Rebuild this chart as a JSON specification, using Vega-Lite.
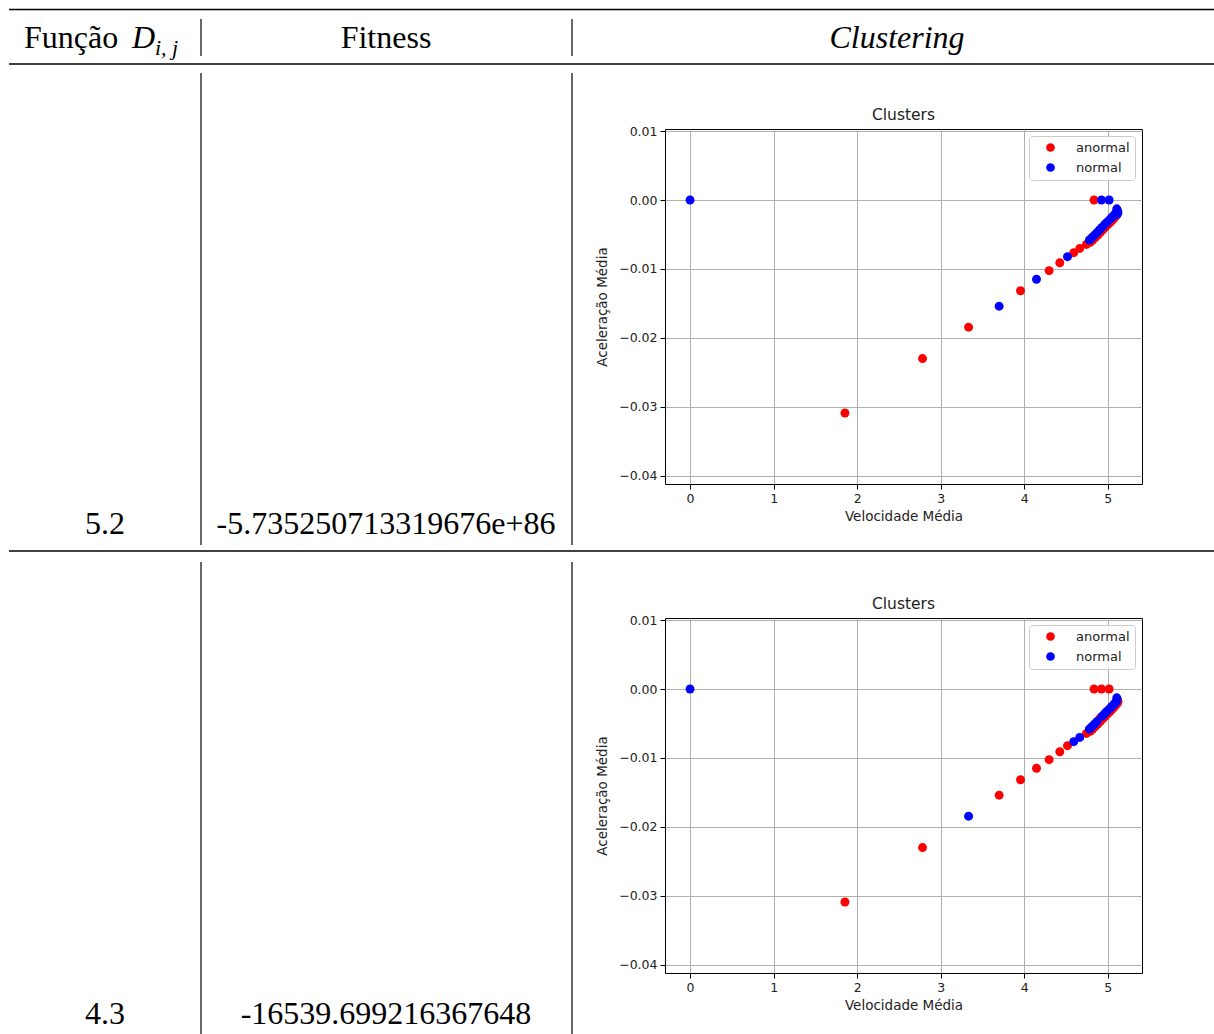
{
  "$schema": "https://vega.github.io/schema/vega-lite/v6.json",
  "padding": 0,
  "background": "white",
  "config": {
    "view": {"stroke": null},
    "axis": {
      "labelFont": "DejaVu Sans", "labelFontSize": 12.5, "labelColor": "#222",
      "titleFont": "DejaVu Sans", "titleFontSize": 13.5, "titleFontWeight": "normal", "titleColor": "#222",
      "gridColor": "#b0b0b0", "gridWidth": 1, "gridOpacity": 1,
      "tickColor": "#000", "tickSize": 5, "tickWidth": 1,
      "domain": false, "labelPadding": 3, "labelFlush": false, "labelOverlap": false, "zindex": 1
    },
    "axisY": {"titlePadding": 9},
    "axisX": {"titlePadding": 5},
    "text": {"font": "Liberation Serif", "fontSize": 32, "color": "#000"}
  },
  "datasets": {
    "row1": [{"funcao": "5.2", "fitness": "-5.735250713319676e+86"}],
    "row2": [{"funcao": "4.3", "fitness": "-16539.699216367648"}],
    "points": [
      {"x": 0, "y": 0, "c1": "normal", "c2": "normal"},
      {"x": 1.854, "y": -0.0309, "c1": "anormal", "c2": "anormal"},
      {"x": 2.783, "y": -0.0230, "c1": "anormal", "c2": "anormal"},
      {"x": 3.334, "y": -0.01845, "c1": "anormal", "c2": "normal"},
      {"x": 3.700, "y": -0.01540, "c1": "normal", "c2": "anormal"},
      {"x": 3.956, "y": -0.01316, "c1": "anormal", "c2": "anormal"},
      {"x": 4.147, "y": -0.01150, "c1": "normal", "c2": "anormal"},
      {"x": 4.298, "y": -0.01025, "c1": "anormal", "c2": "anormal"},
      {"x": 4.426, "y": -0.00910, "c1": "anormal", "c2": "anormal"},
      {"x": 4.518, "y": -0.00822, "c1": "normal", "c2": "anormal"},
      {"x": 4.593, "y": -0.00764, "c1": "anormal", "c2": "normal"},
      {"x": 4.665, "y": -0.00703, "c1": "anormal", "c2": "normal"},
      {"x": 4.745, "y": -0.00645, "c1": "anormal", "c2": "anormal"},
      {"x": 4.836, "y": 0, "c1": "anormal", "c2": "anormal"},
      {"x": 4.925, "y": 0, "c1": "normal", "c2": "anormal"},
      {"x": 5.016, "y": 0, "c1": "normal", "c2": "anormal"},
      {"x": 4.79, "y": -0.00615, "c1": "anormal", "c2": "anormal"},
      {"x": 4.82, "y": -0.0058, "c1": "anormal", "c2": "anormal"},
      {"x": 4.85, "y": -0.00545, "c1": "anormal", "c2": "anormal"},
      {"x": 4.88, "y": -0.0051, "c1": "anormal", "c2": "anormal"},
      {"x": 4.91, "y": -0.00472, "c1": "anormal", "c2": "anormal"},
      {"x": 4.94, "y": -0.00434, "c1": "anormal", "c2": "anormal"},
      {"x": 4.97, "y": -0.00396, "c1": "anormal", "c2": "anormal"},
      {"x": 5.0, "y": -0.0036, "c1": "anormal", "c2": "anormal"},
      {"x": 5.03, "y": -0.00324, "c1": "anormal", "c2": "anormal"},
      {"x": 5.055, "y": -0.00292, "c1": "anormal", "c2": "anormal"},
      {"x": 5.08, "y": -0.0026, "c1": "anormal", "c2": "anormal"},
      {"x": 5.10, "y": -0.0023, "c1": "anormal", "c2": "anormal"},
      {"x": 5.115, "y": -0.00205, "c1": "normal", "c2": "anormal"},
      {"x": 5.123, "y": -0.0018, "c1": "normal", "c2": "anormal"},
      {"x": 4.78, "y": -0.0058, "c1": "normal", "c2": "normal"},
      {"x": 4.81, "y": -0.00545, "c1": "normal", "c2": "normal"},
      {"x": 4.84, "y": -0.0051, "c1": "normal", "c2": "normal"},
      {"x": 4.87, "y": -0.00473, "c1": "normal", "c2": "normal"},
      {"x": 4.90, "y": -0.00435, "c1": "normal", "c2": "anormal"},
      {"x": 4.93, "y": -0.00397, "c1": "normal", "c2": "normal"},
      {"x": 4.96, "y": -0.0036, "c1": "normal", "c2": "normal"},
      {"x": 4.99, "y": -0.00323, "c1": "normal", "c2": "normal"},
      {"x": 5.02, "y": -0.00288, "c1": "normal", "c2": "normal"},
      {"x": 5.045, "y": -0.00258, "c1": "normal", "c2": "normal"},
      {"x": 5.07, "y": -0.00228, "c1": "normal", "c2": "normal"},
      {"x": 5.09, "y": -0.002, "c1": "normal", "c2": "normal"},
      {"x": 5.105, "y": -0.00175, "c1": "normal", "c2": "normal"},
      {"x": 5.113, "y": -0.0015, "c1": "normal", "c2": "normal"},
      {"x": 5.108, "y": -0.00128, "c1": "normal", "c2": "normal"}
    ]
  },
  "columns": 2,
  "spacing": {"row": 5, "column": 93},
  "bounds": "flush",
  "center": true,
  "resolve": {"scale": {"color": "independent"}, "legend": {"color": "independent"}},
  "concat": [
    {
      "width": 572, "height": 613,
      "data": {"name": "row1"},
      "layer": [
        {"mark": {"type": "rule", "color": "#000", "strokeWidth": 1.6},
         "encoding": {"x": {"datum": 9, "type": "quantitative", "scale": {"domain": [0, 572], "nice": false, "zero": false}, "axis": null}, "x2": {"datum": 1214},
                      "y": {"datum": 9.5, "type": "quantitative", "scale": {"domain": [0, 613], "nice": false, "zero": false, "reverse": true}, "axis": null}}},
        {"mark": {"type": "rule", "color": "#000", "strokeWidth": 1.5},
         "encoding": {"x": {"datum": 9, "type": "quantitative", "scale": {"domain": [0, 572], "nice": false, "zero": false}, "axis": null}, "x2": {"datum": 1214},
                      "y": {"datum": 64, "type": "quantitative", "scale": {"domain": [0, 613], "nice": false, "zero": false, "reverse": true}, "axis": null}}},
        {"mark": {"type": "rule", "color": "#000", "strokeWidth": 1.5},
         "encoding": {"x": {"datum": 9, "type": "quantitative", "scale": {"domain": [0, 572], "nice": false, "zero": false}, "axis": null}, "x2": {"datum": 1214},
                      "y": {"datum": 551, "type": "quantitative", "scale": {"domain": [0, 613], "nice": false, "zero": false, "reverse": true}, "axis": null}}},
        {"mark": {"type": "rule", "color": "#000", "strokeWidth": 1.2},
         "encoding": {"x": {"datum": 201, "type": "quantitative", "scale": {"domain": [0, 572], "nice": false, "zero": false}, "axis": null},
                      "y": {"datum": 19, "type": "quantitative", "scale": {"domain": [0, 613], "nice": false, "zero": false, "reverse": true}, "axis": null}, "y2": {"datum": 56}}},
        {"mark": {"type": "rule", "color": "#000", "strokeWidth": 1.2},
         "encoding": {"x": {"datum": 572, "type": "quantitative", "scale": {"domain": [0, 572], "nice": false, "zero": false}, "axis": null},
                      "y": {"datum": 19, "type": "quantitative", "scale": {"domain": [0, 613], "nice": false, "zero": false, "reverse": true}, "axis": null}, "y2": {"datum": 56}}},
        {"mark": {"type": "rule", "color": "#000", "strokeWidth": 1.2},
         "encoding": {"x": {"datum": 201, "type": "quantitative", "scale": {"domain": [0, 572], "nice": false, "zero": false}, "axis": null},
                      "y": {"datum": 73, "type": "quantitative", "scale": {"domain": [0, 613], "nice": false, "zero": false, "reverse": true}, "axis": null}, "y2": {"datum": 545}}},
        {"mark": {"type": "rule", "color": "#000", "strokeWidth": 1.2},
         "encoding": {"x": {"datum": 572, "type": "quantitative", "scale": {"domain": [0, 572], "nice": false, "zero": false}, "axis": null},
                      "y": {"datum": 73, "type": "quantitative", "scale": {"domain": [0, 613], "nice": false, "zero": false, "reverse": true}, "axis": null}, "y2": {"datum": 545}}},
        {"mark": {"type": "text", "text": "Função", "align": "left", "baseline": "alphabetic"},
         "encoding": {"x": {"datum": 24, "type": "quantitative", "scale": {"domain": [0, 572], "nice": false, "zero": false}, "axis": null},
                      "y": {"datum": 47.5, "type": "quantitative", "scale": {"domain": [0, 613], "nice": false, "zero": false, "reverse": true}, "axis": null}}},
        {"mark": {"type": "text", "text": "D", "align": "left", "baseline": "alphabetic", "fontStyle": "italic"},
         "encoding": {"x": {"datum": 132, "type": "quantitative", "scale": {"domain": [0, 572], "nice": false, "zero": false}, "axis": null},
                      "y": {"datum": 47.5, "type": "quantitative", "scale": {"domain": [0, 613], "nice": false, "zero": false, "reverse": true}, "axis": null}}},
        {"mark": {"type": "text", "text": "i, j", "align": "left", "baseline": "alphabetic", "fontStyle": "italic", "fontSize": 22},
         "encoding": {"x": {"datum": 155, "type": "quantitative", "scale": {"domain": [0, 572], "nice": false, "zero": false}, "axis": null},
                      "y": {"datum": 54.5, "type": "quantitative", "scale": {"domain": [0, 613], "nice": false, "zero": false, "reverse": true}, "axis": null}}},
        {"mark": {"type": "text", "text": "Fitness", "align": "center", "baseline": "alphabetic"},
         "encoding": {"x": {"datum": 386, "type": "quantitative", "scale": {"domain": [0, 572], "nice": false, "zero": false}, "axis": null},
                      "y": {"datum": 47.5, "type": "quantitative", "scale": {"domain": [0, 613], "nice": false, "zero": false, "reverse": true}, "axis": null}}},
        {"mark": {"type": "text", "text": "Clustering", "align": "center", "baseline": "alphabetic", "fontStyle": "italic"},
         "encoding": {"x": {"datum": 897, "type": "quantitative", "scale": {"domain": [0, 572], "nice": false, "zero": false}, "axis": null},
                      "y": {"datum": 47.5, "type": "quantitative", "scale": {"domain": [0, 613], "nice": false, "zero": false, "reverse": true}, "axis": null}}},
        {"mark": {"type": "text", "align": "center", "baseline": "alphabetic"},
         "encoding": {"text": {"field": "funcao"},
                      "x": {"datum": 105, "type": "quantitative", "scale": {"domain": [0, 572], "nice": false, "zero": false}, "axis": null},
                      "y": {"datum": 533.5, "type": "quantitative", "scale": {"domain": [0, 613], "nice": false, "zero": false, "reverse": true}, "axis": null}}},
        {"mark": {"type": "text", "align": "center", "baseline": "alphabetic"},
         "encoding": {"text": {"field": "fitness"},
                      "x": {"datum": 386, "type": "quantitative", "scale": {"domain": [0, 572], "nice": false, "zero": false}, "axis": null},
                      "y": {"datum": 533.5, "type": "quantitative", "scale": {"domain": [0, 613], "nice": false, "zero": false, "reverse": true}, "axis": null}}}
      ]
    },
    {
      "width": 477, "height": 355,
      "view": {"stroke": "#000", "strokeWidth": 1},
      "title": {"text": "Clusters", "font": "DejaVu Sans", "fontSize": 15.5, "fontWeight": "normal", "color": "#222", "offset": 2},
      "data": {"name": "points"},
      "mark": {"type": "point", "filled": true, "size": 80, "opacity": 1, "strokeWidth": 0},
      "encoding": {
        "x": {"field": "x", "type": "quantitative", "scale": {"domain": [-0.3, 5.41], "nice": false, "zero": false},
              "axis": {"title": "Velocidade Média", "values": [0, 1, 2, 3, 4, 5], "format": "d", "grid": true}},
        "y": {"field": "y", "type": "quantitative", "scale": {"domain": [-0.0412, 0.0103], "nice": false, "zero": false},
              "axis": {"title": "Aceleração Média", "values": [-0.04, -0.03, -0.02, -0.01, 0, 0.01], "format": ".2f", "grid": true}},
        "color": {"field": "c1", "type": "nominal", "scale": {"domain": ["anormal", "normal"], "range": ["#ff0000", "#0000ff"]},
                  "legend": {"title": null, "orient": "top-right", "offset": 7, "padding": 5, "strokeColor": "#cccccc", "fillColor": "rgba(255,255,255,0.85)", "cornerRadius": 3, "labelFont": "DejaVu Sans", "labelFontSize": 13, "labelColor": "#222", "symbolType": "circle", "symbolSize": 75, "symbolStrokeWidth": 0, "rowPadding": 6, "labelOffset": 19, "symbolOffset": 10, "zindex": 2}},
        "order": {"field": "c1", "sort": "ascending"}
      }
    },
    {
      "width": 572, "height": 355,
      "data": {"name": "row2"},
      "layer": [
        {"mark": {"type": "rule", "color": "#000", "strokeWidth": 1.2},
         "encoding": {"x": {"datum": 201, "type": "quantitative", "scale": {"domain": [0, 572], "nice": false, "zero": false}, "axis": null},
                      "y": {"datum": 562, "type": "quantitative", "scale": {"domain": [618, 973], "nice": false, "zero": false, "reverse": true}, "axis": null}, "y2": {"datum": 1034}}},
        {"mark": {"type": "rule", "color": "#000", "strokeWidth": 1.2},
         "encoding": {"x": {"datum": 572, "type": "quantitative", "scale": {"domain": [0, 572], "nice": false, "zero": false}, "axis": null},
                      "y": {"datum": 562, "type": "quantitative", "scale": {"domain": [618, 973], "nice": false, "zero": false, "reverse": true}, "axis": null}, "y2": {"datum": 1034}}},
        {"mark": {"type": "text", "align": "center", "baseline": "alphabetic"},
         "encoding": {"text": {"field": "funcao"},
                      "x": {"datum": 105, "type": "quantitative", "scale": {"domain": [0, 572], "nice": false, "zero": false}, "axis": null},
                      "y": {"datum": 1023.5, "type": "quantitative", "scale": {"domain": [618, 973], "nice": false, "zero": false, "reverse": true}, "axis": null}}},
        {"mark": {"type": "text", "align": "center", "baseline": "alphabetic"},
         "encoding": {"text": {"field": "fitness"},
                      "x": {"datum": 386, "type": "quantitative", "scale": {"domain": [0, 572], "nice": false, "zero": false}, "axis": null},
                      "y": {"datum": 1023.5, "type": "quantitative", "scale": {"domain": [618, 973], "nice": false, "zero": false, "reverse": true}, "axis": null}}}
      ]
    },
    {
      "width": 477, "height": 355,
      "view": {"stroke": "#000", "strokeWidth": 1},
      "title": {"text": "Clusters", "font": "DejaVu Sans", "fontSize": 15.5, "fontWeight": "normal", "color": "#222", "offset": 2},
      "data": {"name": "points"},
      "mark": {"type": "point", "filled": true, "size": 80, "opacity": 1, "strokeWidth": 0},
      "encoding": {
        "x": {"field": "x", "type": "quantitative", "scale": {"domain": [-0.3, 5.41], "nice": false, "zero": false},
              "axis": {"title": "Velocidade Média", "values": [0, 1, 2, 3, 4, 5], "format": "d", "grid": true}},
        "y": {"field": "y", "type": "quantitative", "scale": {"domain": [-0.0412, 0.0103], "nice": false, "zero": false},
              "axis": {"title": "Aceleração Média", "values": [-0.04, -0.03, -0.02, -0.01, 0, 0.01], "format": ".2f", "grid": true}},
        "color": {"field": "c2", "type": "nominal", "scale": {"domain": ["anormal", "normal"], "range": ["#ff0000", "#0000ff"]},
                  "legend": {"title": null, "orient": "top-right", "offset": 7, "padding": 5, "strokeColor": "#cccccc", "fillColor": "rgba(255,255,255,0.85)", "cornerRadius": 3, "labelFont": "DejaVu Sans", "labelFontSize": 13, "labelColor": "#222", "symbolType": "circle", "symbolSize": 75, "symbolStrokeWidth": 0, "rowPadding": 6, "labelOffset": 19, "symbolOffset": 10, "zindex": 2}},
        "order": {"field": "c2", "sort": "ascending"}
      }
    }
  ]
}
